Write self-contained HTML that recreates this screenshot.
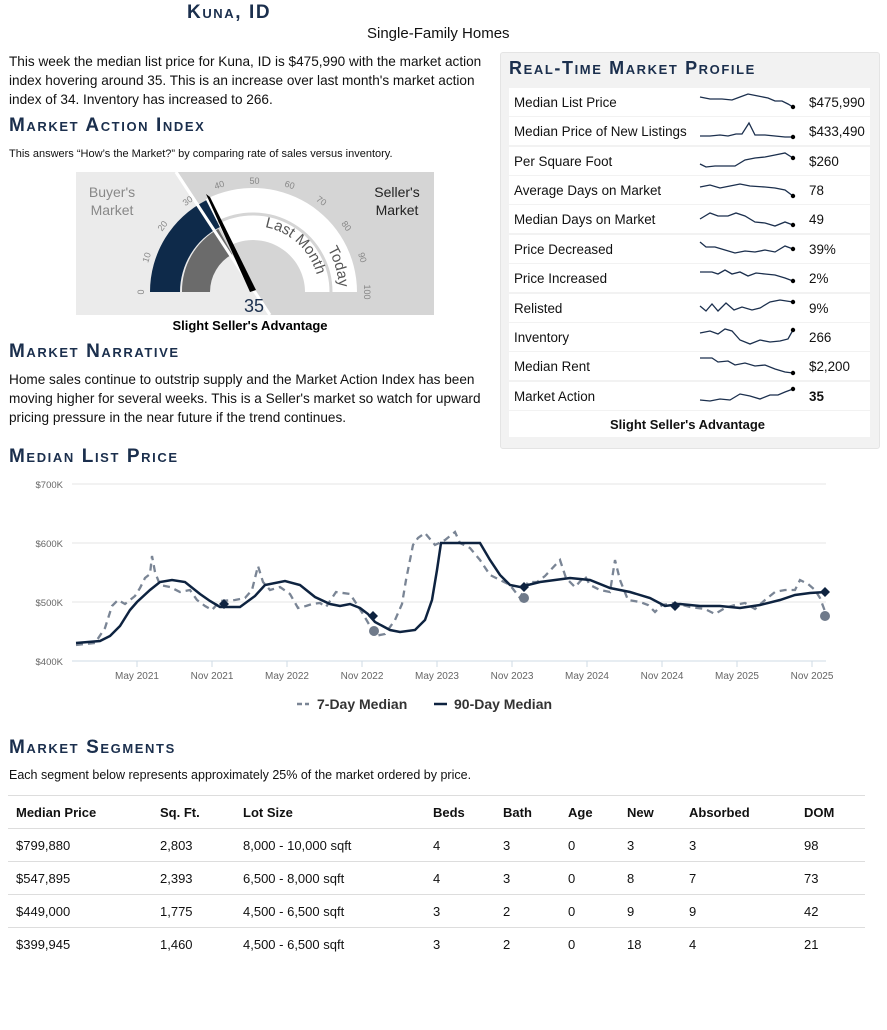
<!DOCTYPE html>
<html><head><meta charset="utf-8">
<style>
body{margin:0;width:887px;height:1030px;background:#fff;font-family:"Liberation Sans",sans-serif;color:#111;position:relative;overflow:hidden}
.a{position:absolute;white-space:nowrap}
.h{font-variant:small-caps;font-weight:bold;color:#1b2f4d;letter-spacing:1.6px;font-size:19px}
.p{font-size:13.6px;line-height:19px}
.row{position:absolute;left:509px;width:361px;height:28px;background:#fff;font-size:13.4px}
.row span{position:absolute;top:7px}
td,th{font-size:13px;text-align:left;padding:0 0 0 8px;height:32px;border-bottom:1px solid #ddd}
th{font-weight:bold}
</style></head><body>
<div class="a h" style="left:187px;top:2px;font-size:19px">Kuna, ID</div>
<div class="a" style="left:367px;top:25px;font-size:15px">Single-Family Homes</div>
<div class="a p" style="left:9px;top:52px">This week the median list price for Kuna, ID is $475,990 with the market action<br>index hovering around 35. This is an increase over last month's market action<br>index of 34. Inventory has increased to 266.</div>
<div class="a h" style="left:9px;top:115px">Market Action Index</div>
<div class="a" style="left:9px;top:148px;font-size:11px">This answers “How’s the Market?” by comparing rate of sales versus inventory.</div>

<svg class="a" style="left:0;top:0" width="460" height="340">
<polygon points="76,172 176,172 270,315 76,315" fill="#ebebeb"/>
<polygon points="176,172 434,172 434,315 270,315" fill="#d5d5d5"/>
<line x1="176" y1="172" x2="270" y2="315" stroke="#fff" stroke-width="3"/>
<path d="M150,292 A103,103 0 0 1 206.2,200.2 L219.9,227 A73,73 0 0 0 180,292 Z" fill="#0e2a4a"/>
<path d="M182,292 A71,71 0 0 1 218.3,228.9 L232.3,254.3 A43,43 0 0 0 210,292 Z" fill="#6b6b6b"/>
<path d="M205.8,199.3 A104,104 0 0 1 357,292 L305,292 A52,52 0 0 0 229.4,245.7 Z" fill="#fff"/>
<path d="M217.6,222.5 A78,78 0 0 1 331,292" fill="none" stroke="#d5d5d5" stroke-width="3"/>
<line x1="176" y1="172" x2="250" y2="285" stroke="#fff" stroke-width="3"/>
<polygon points="206,194 210,197 256,290 250,292" fill="#000"/>
<g font-size="9" fill="#888" text-anchor="middle">
<text transform="translate(144,292) rotate(-90)">0</text>
<text transform="translate(149.5,258.4) rotate(-72)">10</text>
<text transform="translate(165,227.7) rotate(-54)">20</text>
<text transform="translate(189.4,203.3) rotate(-36)">30</text>
<text transform="translate(220.3,187.8) rotate(-18)">40</text>
<text transform="translate(254.5,184) rotate(0)">50</text>
<text transform="translate(288.7,187.8) rotate(18)">60</text>
<text transform="translate(319.6,203.3) rotate(36)">70</text>
<text transform="translate(344,227.7) rotate(54)">80</text>
<text transform="translate(359.5,258.4) rotate(72)">90</text>
<text transform="translate(364,292) rotate(90)">100</text>
</g>
<defs><path id="lm" d="M253,226 A66,66 0 0 1 319,292"/><path id="td" d="M253,206 A86,86 0 0 1 339,292"/></defs>
<text font-size="15" fill="#555"><textPath href="#lm" startOffset="12">Last Month</textPath></text>
<text font-size="15" fill="#555"><textPath href="#td" startOffset="90">Today</textPath></text>
<text x="112" y="197" font-size="14" fill="#888" text-anchor="middle">Buyer's</text>
<text x="112" y="215" font-size="14" fill="#888" text-anchor="middle">Market</text>
<text x="397" y="197" font-size="14" fill="#222" text-anchor="middle">Seller's</text>
<text x="397" y="215" font-size="14" fill="#222" text-anchor="middle">Market</text>
<text x="254" y="312" font-size="18" fill="#1b2f4d" text-anchor="middle">35</text>
<text x="250" y="330" font-size="13" font-weight="bold" text-anchor="middle">Slight Seller's Advantage</text>
</svg>

<div class="a h" style="left:9px;top:341px">Market Narrative</div>
<div class="a p" style="left:9px;top:370px">Home sales continue to outstrip supply and the Market Action Index has been<br>moving higher for several weeks. This is a Seller's market so watch for upward<br>pricing pressure in the near future if the trend continues.</div>

<div class="a" style="left:500px;top:52px;width:378px;height:395px;background:#f2f2f2;border:1px solid #e4e4e4;border-radius:3px"></div>
<div class="a h" style="left:509px;top:58px;font-size:18px">Real-Time Market Profile</div>
<div class="row" style="top:88px"><span style="left:5px">Median List Price</span><span style="left:300px">$475,990</span></div>
<div class="row" style="top:117px"><span style="left:5px">Median Price of New Listings</span><span style="left:300px">$433,490</span></div>
<div class="row" style="top:147px"><span style="left:5px">Per Square Foot</span><span style="left:300px">$260</span></div>
<div class="row" style="top:176px"><span style="left:5px">Average Days on Market</span><span style="left:300px">78</span></div>
<div class="row" style="top:205px"><span style="left:5px">Median Days on Market</span><span style="left:300px">49</span></div>
<div class="row" style="top:235px"><span style="left:5px">Price Decreased</span><span style="left:300px">39%</span></div>
<div class="row" style="top:264px"><span style="left:5px">Price Increased</span><span style="left:300px">2%</span></div>
<div class="row" style="top:294px"><span style="left:5px">Relisted</span><span style="left:300px">9%</span></div>
<div class="row" style="top:323px"><span style="left:5px">Inventory</span><span style="left:300px">266</span></div>
<div class="row" style="top:352px"><span style="left:5px">Median Rent</span><span style="left:300px">$2,200</span></div>
<div class="row" style="top:382px"><span style="left:5px">Market Action</span><span style="left:300px;font-weight:bold">35</span></div>
<div class="row" style="top:411px;height:26px"><span style="left:101px;top:6px;font-weight:bold;font-size:13px">Slight Seller's Advantage</span></div>
<svg class="a" style="left:0;top:0" width="887" height="450" fill="none" stroke="#1b2f4d" stroke-width="1.3">
<polyline points="700,97 710,99 722,99 732,100 740,97 748,94 758,96 768,98 775,101 782,101 788,104 793,107"/>
<polyline points="700,136 710,136 720,135 728,136 736,134 742,134 749,123 755,135 765,135 775,136 785,137 793,137"/>
<polyline points="700,164 706,167 715,166 725,166 735,166 745,160 755,158 765,157 775,155 785,153 793,158"/>
<polyline points="700,187 710,185 720,188 730,186 740,184 750,186 765,187 775,188 785,190 793,196"/>
<polyline points="700,219 710,213 718,216 728,216 736,213 745,216 755,222 765,223 775,226 785,222 793,225"/>
<polyline points="700,242 706,247 715,247 725,250 735,253 745,251 755,252 765,250 775,252 785,246 793,249"/>
<polyline points="700,272 712,272 718,274 725,270 732,274 740,272 748,276 756,273 765,274 775,275 785,278 793,281"/>
<polyline points="700,306 706,311 712,304 718,311 726,303 734,310 742,307 752,310 760,308 770,302 780,300 793,302"/>
<polyline points="700,333 710,331 718,334 725,329 732,331 740,340 750,344 760,340 770,342 780,341 788,339 793,330"/>
<polyline points="700,358 712,358 718,362 728,361 735,365 745,363 755,366 765,365 775,369 785,372 793,373"/>
<polyline points="700,400 710,401 720,399 730,400 740,394 750,396 760,399 770,395 778,395 785,392 793,389"/>
<g fill="#000" stroke="none"><circle cx="793" cy="107" r="2.2"/><circle cx="793" cy="137" r="2.2"/><circle cx="793" cy="158" r="2.2"/><circle cx="793" cy="196" r="2.2"/><circle cx="793" cy="225" r="2.2"/><circle cx="793" cy="249" r="2.2"/><circle cx="793" cy="281" r="2.2"/><circle cx="793" cy="302" r="2.2"/><circle cx="793" cy="330" r="2.2"/><circle cx="793" cy="373" r="2.2"/><circle cx="793" cy="389" r="2.2"/></g>
</svg>

<div class="a h" style="left:9px;top:446px">Median List Price</div>
<svg class="a" style="left:0;top:470px" width="887" height="250">
<g transform="translate(0,-470)">
<g stroke="#e6e6e6" stroke-width="1"><line x1="72" y1="484" x2="826" y2="484"/><line x1="72" y1="543" x2="826" y2="543"/><line x1="72" y1="602" x2="826" y2="602"/></g>
<line x1="72" y1="661" x2="826" y2="661" stroke="#cfdbe6"/>
<g font-size="9.5" fill="#666" text-anchor="end"><text x="63" y="488">$700K</text><text x="63" y="547">$600K</text><text x="63" y="606">$500K</text><text x="63" y="665">$400K</text></g>
<g stroke="#cfdbe6"><line x1="137" y1="661" x2="137" y2="667"/><line x1="212" y1="661" x2="212" y2="667"/><line x1="287" y1="661" x2="287" y2="667"/><line x1="362" y1="661" x2="362" y2="667"/><line x1="437" y1="661" x2="437" y2="667"/><line x1="512" y1="661" x2="512" y2="667"/><line x1="587" y1="661" x2="587" y2="667"/><line x1="662" y1="661" x2="662" y2="667"/><line x1="737" y1="661" x2="737" y2="667"/><line x1="812" y1="661" x2="812" y2="667"/></g>
<g font-size="10" fill="#666" text-anchor="middle"><text x="137" y="679">May 2021</text><text x="212" y="679">Nov 2021</text><text x="287" y="679">May 2022</text><text x="362" y="679">Nov 2022</text><text x="437" y="679">May 2023</text><text x="512" y="679">Nov 2023</text><text x="587" y="679">May 2024</text><text x="662" y="679">Nov 2024</text><text x="737" y="679">May 2025</text><text x="812" y="679">Nov 2025</text></g>
<polyline fill="none" stroke="#7a8595" stroke-width="2.3" stroke-dasharray="7,5" points="76,645 95,643 105,628 112,606 118,600 125,604 135,596 140,588 145,578 150,574 152,556 155,572 160,585 170,587 180,592 190,590 197,600 205,606 212,610 220,601 235,600 245,598 252,590 258,566 263,582 270,590 280,587 290,594 298,608 306,606 312,604 320,603 326,607 336,592 350,594 356,603 363,614 370,626 375,636 385,634 395,620 402,604 406,580 410,560 413,545 418,538 425,533 430,539 435,545 445,540 455,532 460,543 470,548 480,560 490,575 500,580 510,585 520,598 528,582 537,582 545,576 560,560 566,578 575,587 585,576 590,585 600,590 610,592 615,560 620,580 628,600 640,602 648,605 655,612 662,605 675,603 690,607 705,609 715,614 725,608 735,605 745,603 755,609 765,600 775,592 785,590 795,590 800,580 808,584 815,590 820,598 826,614"/>
<polyline fill="none" stroke="#0e2340" stroke-width="2.5" points="76,643 100,641 110,636 120,626 130,610 137,602 150,590 160,582 172,580 185,582 200,594 210,601 220,607 240,607 255,596 265,585 285,581 300,585 315,597 330,604 340,606 350,604 360,608 368,614 375,622 390,630 400,632 415,630 425,620 432,600 437,570 441,543 480,543 490,560 500,575 510,585 520,587 540,582 570,578 590,580 610,588 630,592 650,598 665,606 680,604 700,606 720,606 740,608 760,605 780,600 795,595 810,593 826,592"/>
<g fill="#0e2340"><path d="M224,599 l5,5 l-5,5 l-5,-5z"/><path d="M373,611 l5,5 l-5,5 l-5,-5z"/><path d="M524,582 l5,5 l-5,5 l-5,-5z"/><path d="M675,601 l5,5 l-5,5 l-5,-5z"/><path d="M825,587 l5,5 l-5,5 l-5,-5z"/></g>
<g fill="#6f7a8a"><circle cx="374" cy="631" r="5"/><circle cx="524" cy="598" r="5"/><circle cx="825" cy="616" r="5"/></g>
<line x1="297" y1="704" x2="309" y2="704" stroke="#7a8595" stroke-width="2.5" stroke-dasharray="5,3"/>
<text x="317" y="709" font-size="14" font-weight="bold" fill="#333">7-Day Median</text>
<line x1="434" y1="704" x2="447" y2="704" stroke="#0e2340" stroke-width="2.5"/>
<text x="454" y="709" font-size="14" font-weight="bold" fill="#333">90-Day Median</text>
</g></svg>

<div class="a h" style="left:9px;top:737px">Market Segments</div>
<div class="a" style="left:9px;top:768px;font-size:12.5px">Each segment below represents approximately 25% of the market ordered by price.</div>
<table class="a" style="left:8px;top:795px;width:857px;border-collapse:collapse;border-top:1px solid #ddd">
<colgroup><col style="width:144px"><col style="width:83px"><col style="width:190px"><col style="width:70px"><col style="width:65px"><col style="width:59px"><col style="width:62px"><col style="width:115px"><col></colgroup>
<tr><th>Median Price</th><th>Sq. Ft.</th><th>Lot Size</th><th>Beds</th><th>Bath</th><th>Age</th><th>New</th><th>Absorbed</th><th>DOM</th></tr>
<tr><td>$799,880</td><td>2,803</td><td>8,000 - 10,000 sqft</td><td>4</td><td>3</td><td>0</td><td>3</td><td>3</td><td>98</td></tr>
<tr><td>$547,895</td><td>2,393</td><td>6,500 - 8,000 sqft</td><td>4</td><td>3</td><td>0</td><td>8</td><td>7</td><td>73</td></tr>
<tr><td>$449,000</td><td>1,775</td><td>4,500 - 6,500 sqft</td><td>3</td><td>2</td><td>0</td><td>9</td><td>9</td><td>42</td></tr>
<tr><td style="border-bottom:none">$399,945</td><td style="border-bottom:none">1,460</td><td style="border-bottom:none">4,500 - 6,500 sqft</td><td style="border-bottom:none">3</td><td style="border-bottom:none">2</td><td style="border-bottom:none">0</td><td style="border-bottom:none">18</td><td style="border-bottom:none">4</td><td style="border-bottom:none">21</td></tr>
</table>
</body></html>
